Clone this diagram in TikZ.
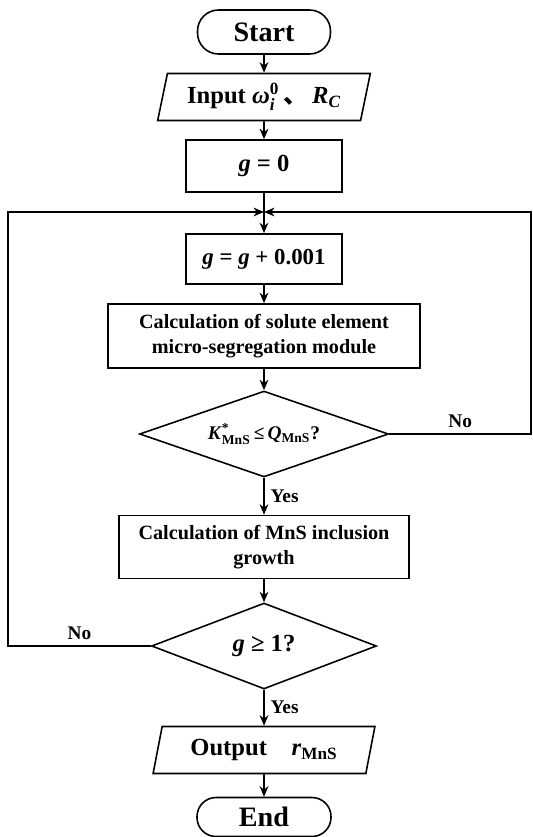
\documentclass[tikz,border=0pt]{standalone}
\usepackage{fontspec}
\usepackage{amsmath}
\setmainfont{Liberation Serif}
\newfontfamily\cjk{Noto Sans CJK SC}
\usetikzlibrary{shapes.geometric,arrows.meta}

\begin{document}
\begin{tikzpicture}[x=0.02cm,y=-0.02cm,line width=0.9pt,
    term/.style={draw,rounded corners=0.42cm,minimum height=0.88cm,font=\bfseries\fontsize{16}{18}\selectfont},
    io/.style={draw,trapezium,trapezium left angle=78,trapezium right angle=102,trapezium stretches=true,minimum height=0.94cm,font=\bfseries\fontsize{14}{16}\selectfont},
    proc/.style={draw,align=center,font=\bfseries\fontsize{11.5}{14}\selectfont},
    dec/.style={draw,diamond,minimum height=1.72cm,font=\bfseries\fontsize{11}{13}\selectfont},
    flow/.style={-{Stealth[length=6pt,width=5pt]}},
    lbl/.style={font=\bfseries\fontsize{11}{13}\selectfont}]
    \useasboundingbox (0,0) rectangle (533,837);
    % main column
    \node[term,minimum width=2.66cm] (start) at (264,32) {Start};
    \node[io,minimum width=4.26cm] (input) at (264,97) {Input \textit{ω}$^{\textbf{0}}_{\textit{i}}$\,{\cjk 、}\,\textit{R}$_{\textit{C}}$};
    \node[proc,minimum width=3.12cm,minimum height=1.04cm,font=\bfseries\fontsize{14}{16}\selectfont] (init) at (264,166) {\textit{g} = 0};
    \coordinate (join) at (264,212);
    \node[proc,minimum width=3.12cm,minimum height=1cm,font=\bfseries\fontsize{13}{15}\selectfont] (incr) at (264,259) {\textit{g} = \textit{g} + 0.001};
    \node[proc,minimum width=6.24cm,minimum height=1.28cm] (solute) at (264,336) {Calculation of solute element\\micro-segregation module};
    \node[dec,minimum width=4.98cm,aspect=2.9] (check) at (264,434) {\textit{K}$^{\textbf{*}}_{\textbf{MnS}}$\,≤\,\textit{Q}$_{\textbf{MnS}}$?};
    \node[proc,minimum width=5.8cm,minimum height=1.26cm] (growth) at (264,547) {Calculation of MnS inclusion\\growth};
    \node[dec,minimum width=4.5cm,aspect=2.6,font=\bfseries\fontsize{14}{16}\selectfont] (finish) at (264,646) {\textit{g} ≥ 1?};
    \node[io,minimum width=4.46cm] (output) at (264,750) {Output\quad \textit{r}$_{\textbf{MnS}}$};
    \node[term,minimum width=2.68cm,minimum height=0.78cm,rounded corners=0.38cm] (end) at (264,817) {End};
    % loop corners
    \coordinate (rightturn) at (531,434);
    \coordinate (leftturn) at (8,646);
    % connectors
    \draw[flow] (start) -- (input);
    \draw[flow] (input) -- (init);
    \draw (init) -- (join);
    \draw[flow] (join) -- (incr);
    \draw[flow] (incr) -- (solute);
    \draw[flow] (solute) -- (check);
    \draw[flow] (check) -- node[right,lbl] {Yes} (growth);
    \draw[flow] (growth) -- (finish);
    \draw[flow] (finish) -- node[right,lbl] {Yes} (output);
    \draw[flow] (output) -- (end);
    \draw[flow] (check.east) -- node[above,lbl] {No} (rightturn) |- (join);
    \draw[flow] (finish.west) -- node[above,lbl] {No} (leftturn) |- (join);
\end{tikzpicture}
\end{document}
